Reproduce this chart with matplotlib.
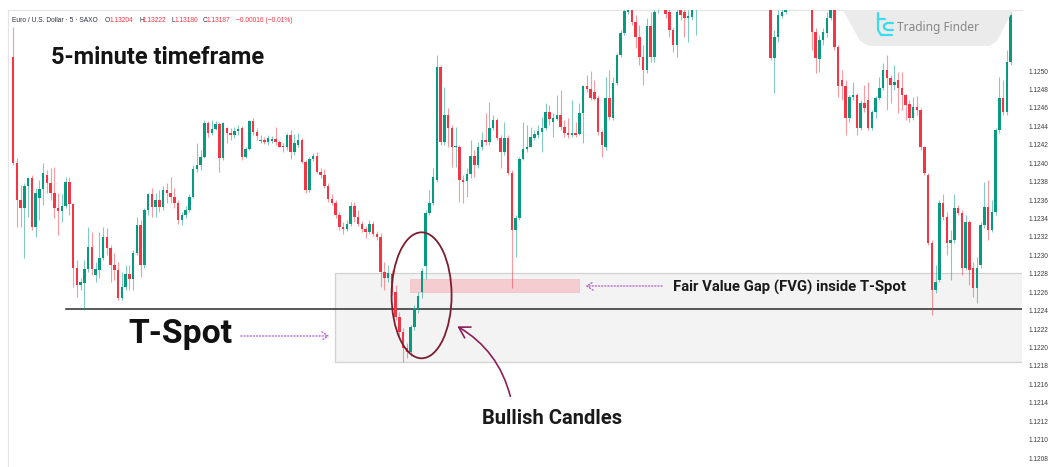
import matplotlib
matplotlib.use("Agg")
import matplotlib.pyplot as plt
from matplotlib.patches import Rectangle, Ellipse, FancyArrowPatch, Polygon
from matplotlib.lines import Line2D
import numpy as np

# ---------------- data (EUR/USD, 5-minute candles) ----------------
opens = [
1.12515, 1.12400, 1.12360, 1.12351, 1.12375, 1.12384, 1.12331, 1.12362, 1.12372, 1.12387,
1.12378, 1.12368, 1.12351, 1.12348, 1.12354, 1.12380, 1.12356, 1.12286, 1.12268, 1.12270,
1.12285, 1.12309, 1.12279, 1.12284, 1.12297, 1.12320, 1.12308, 1.12290, 1.12284, 1.12254,
1.12266, 1.12280, 1.12274, 1.12303, 1.12333, 1.12290, 1.12349, 1.12366, 1.12352, 1.12360,
1.12352, 1.12371, 1.12368, 1.12363, 1.12357, 1.12338, 1.12344, 1.12349, 1.12363, 1.12394,
1.12398, 1.12407, 1.12444, 1.12433, 1.12437, 1.12443, 1.12406, 1.12438, 1.12433, 1.12431,
1.12435, 1.12438, 1.12407, 1.12415, 1.12446, 1.12434, 1.12424, 1.12425, 1.12423, 1.12424,
1.12426, 1.12423, 1.12418, 1.12417, 1.12431, 1.12412, 1.12420, 1.12425, 1.12401, 1.12371,
1.12405, 1.12408, 1.12390, 1.12387, 1.12375, 1.12361, 1.12357, 1.12344, 1.12331, 1.12329,
1.12334, 1.12354, 1.12342, 1.12334, 1.12329, 1.12325, 1.12334, 1.12323, 1.12320, 1.12282,
1.12275, 1.12280, 1.12260, 1.12233, 1.12217, 1.12199, 1.12195, 1.12222, 1.12241, 1.12260,
1.12288, 1.12346, 1.12357, 1.12382, 1.12504, 1.12423, 1.12452, 1.12438, 1.12417, 1.12418,
1.12382, 1.12381, 1.12388, 1.12408, 1.12398, 1.12418, 1.12425, 1.12423, 1.12438, 1.12447,
1.12427, 1.12412, 1.12427, 1.12389, 1.12327, 1.12341, 1.12405, 1.12415, 1.12418, 1.12427,
1.12431, 1.12434, 1.12438, 1.12456, 1.12445, 1.12448, 1.12452, 1.12439, 1.12433, 1.12431,
1.12432, 1.12432, 1.12454, 1.12484, 1.12480, 1.12477, 1.12471, 1.12434, 1.12417, 1.12471,
1.12449, 1.12487, 1.12517, 1.12541, 1.12564, 1.12580, 1.12553, 1.12537, 1.12515, 1.12501,
1.12549, 1.12515, 1.12572, 1.12588, 1.12583, 1.12564, 1.12545, 1.12528, 1.12568, 1.12564,
1.12558, 1.12559, 1.12572, 1.12577, 1.12590, 1.12586, 1.12601, 1.12610, 1.12603, 1.12615,
1.12621, 1.12613, 1.12626, 1.12618, 1.12610, 1.12616, 1.12608, 1.12599, 1.12605, 1.12597,
1.12588, 1.12593, 1.12577, 1.12514, 1.12537, 1.12560, 1.12564, 1.12579, 1.12593, 1.12586,
1.12599, 1.12590, 1.12597, 1.12583, 1.12542, 1.12513, 1.12534, 1.12541, 1.12558, 1.12566,
1.12526, 1.12490, 1.12484, 1.12449, 1.12472, 1.12474, 1.12438, 1.12465, 1.12469, 1.12438,
1.12456, 1.12471, 1.12482, 1.12501, 1.12492, 1.12485, 1.12490, 1.12482, 1.12474, 1.12464,
1.12449, 1.12461, 1.12458, 1.12417, 1.12387, 1.12313, 1.12262, 1.12273, 1.12357, 1.12342,
1.12313, 1.12317, 1.12351, 1.12346, 1.12286, 1.12336, 1.12286, 1.12265, 1.12290, 1.12333,
1.12352, 1.12327, 1.12347, 1.12436, 1.12471, 1.12456, 1.12510]

closes = [
1.12400, 1.12360, 1.12351, 1.12375, 1.12384, 1.12331, 1.12368, 1.12372, 1.12389, 1.12378,
1.12368, 1.12351, 1.12348, 1.12354, 1.12380, 1.12356, 1.12286, 1.12268, 1.12271, 1.12285,
1.12309, 1.12285, 1.12285, 1.12297, 1.12320, 1.12308, 1.12290, 1.12284, 1.12254, 1.12266,
1.12280, 1.12274, 1.12303, 1.12333, 1.12290, 1.12349, 1.12366, 1.12352, 1.12360, 1.12352,
1.12371, 1.12368, 1.12363, 1.12357, 1.12338, 1.12344, 1.12349, 1.12363, 1.12394, 1.12398,
1.12407, 1.12444, 1.12433, 1.12437, 1.12443, 1.12406, 1.12444, 1.12433, 1.12431, 1.12435,
1.12437, 1.12407, 1.12415, 1.12446, 1.12434, 1.12430, 1.12425, 1.12423, 1.12427, 1.12426,
1.12423, 1.12418, 1.12417, 1.12431, 1.12412, 1.12422, 1.12425, 1.12401, 1.12371, 1.12405,
1.12408, 1.12390, 1.12387, 1.12375, 1.12361, 1.12357, 1.12344, 1.12331, 1.12329, 1.12334,
1.12354, 1.12342, 1.12334, 1.12329, 1.12325, 1.12334, 1.12323, 1.12320, 1.12282, 1.12275,
1.12281, 1.12260, 1.12233, 1.12217, 1.12199, 1.12195, 1.12222, 1.12243, 1.12256, 1.12283,
1.12346, 1.12357, 1.12385, 1.12504, 1.12423, 1.12452, 1.12438, 1.12417, 1.12418, 1.12382,
1.12380, 1.12388, 1.12408, 1.12398, 1.12418, 1.12425, 1.12423, 1.12438, 1.12447, 1.12427,
1.12412, 1.12427, 1.12389, 1.12327, 1.12341, 1.12405, 1.12415, 1.12418, 1.12428, 1.12432,
1.12435, 1.12438, 1.12456, 1.12448, 1.12449, 1.12452, 1.12439, 1.12433, 1.12431, 1.12432,
1.12431, 1.12454, 1.12484, 1.12480, 1.12471, 1.12470, 1.12434, 1.12420, 1.12471, 1.12450,
1.12487, 1.12517, 1.12541, 1.12565, 1.12583, 1.12553, 1.12537, 1.12515, 1.12501, 1.12549,
1.12515, 1.12564, 1.12588, 1.12599, 1.12562, 1.12545, 1.12528, 1.12564, 1.12561, 1.12558,
1.12559, 1.12568, 1.12577, 1.12590, 1.12586, 1.12601, 1.12610, 1.12603, 1.12615, 1.12621,
1.12613, 1.12626, 1.12618, 1.12610, 1.12616, 1.12608, 1.12599, 1.12605, 1.12597, 1.12588,
1.12593, 1.12579, 1.12514, 1.12537, 1.12561, 1.12564, 1.12579, 1.12593, 1.12586, 1.12599,
1.12590, 1.12597, 1.12583, 1.12542, 1.12514, 1.12534, 1.12542, 1.12558, 1.12568, 1.12526,
1.12484, 1.12484, 1.12449, 1.12472, 1.12474, 1.12438, 1.12465, 1.12460, 1.12438, 1.12456,
1.12471, 1.12482, 1.12501, 1.12492, 1.12485, 1.12488, 1.12482, 1.12474, 1.12463, 1.12449,
1.12461, 1.12458, 1.12417, 1.12389, 1.12313, 1.12262, 1.12271, 1.12357, 1.12342, 1.12313,
1.12317, 1.12351, 1.12346, 1.12286, 1.12336, 1.12284, 1.12265, 1.12286, 1.12333, 1.12352,
1.12327, 1.12347, 1.12436, 1.12471, 1.12456, 1.12510, 1.12561]

highs = [
1.12548, 1.12406, 1.12376, 1.12378, 1.12385, 1.12387, 1.12373, 1.12382, 1.12400, 1.12393,
1.12395, 1.12396, 1.12368, 1.12366, 1.12385, 1.12385, 1.12357, 1.12295, 1.12275, 1.12295,
1.12331, 1.12325, 1.12293, 1.12325, 1.12331, 1.12330, 1.12311, 1.12303, 1.12293, 1.12282,
1.12290, 1.12290, 1.12306, 1.12342, 1.12338, 1.12351, 1.12368, 1.12373, 1.12368, 1.12371,
1.12375, 1.12378, 1.12385, 1.12373, 1.12360, 1.12347, 1.12354, 1.12366, 1.12398, 1.12422,
1.12414, 1.12447, 1.12446, 1.12447, 1.12446, 1.12445, 1.12445, 1.12439, 1.12438, 1.12439,
1.12441, 1.12440, 1.12418, 1.12447, 1.12449, 1.12438, 1.12431, 1.12428, 1.12431, 1.12430,
1.12439, 1.12425, 1.12422, 1.12433, 1.12436, 1.12432, 1.12433, 1.12427, 1.12403, 1.12407,
1.12411, 1.12412, 1.12395, 1.12394, 1.12378, 1.12366, 1.12360, 1.12347, 1.12336, 1.12338,
1.12358, 1.12358, 1.12349, 1.12337, 1.12332, 1.12338, 1.12337, 1.12326, 1.12324, 1.12293,
1.12290, 1.12284, 1.12268, 1.12238, 1.12221, 1.12205, 1.12224, 1.12246, 1.12260, 1.12286,
1.12349, 1.12371, 1.12395, 1.12517, 1.12507, 1.12483, 1.12460, 1.12441, 1.12439, 1.12420,
1.12387, 1.12395, 1.12425, 1.12414, 1.12423, 1.12434, 1.12454, 1.12466, 1.12452, 1.12449,
1.12431, 1.12445, 1.12431, 1.12393, 1.12344, 1.12407, 1.12445, 1.12441, 1.12439, 1.12436,
1.12441, 1.12450, 1.12465, 1.12463, 1.12454, 1.12474, 1.12479, 1.12447, 1.12449, 1.12469,
1.12445, 1.12465, 1.12485, 1.12496, 1.12500, 1.12490, 1.12474, 1.12436, 1.12493, 1.12501,
1.12494, 1.12520, 1.12545, 1.12568, 1.12588, 1.12586, 1.12561, 1.12550, 1.12528, 1.12558,
1.12564, 1.12572, 1.12593, 1.12604, 1.12588, 1.12572, 1.12547, 1.12572, 1.12574, 1.12572,
1.12566, 1.12574, 1.12583, 1.12597, 1.12599, 1.12608, 1.12616, 1.12618, 1.12623, 1.12629,
1.12626, 1.12631, 1.12634, 1.12623, 1.12621, 1.12621, 1.12613, 1.12610, 1.12610, 1.12601,
1.12599, 1.12599, 1.12583, 1.12545, 1.12566, 1.12572, 1.12586, 1.12599, 1.12601, 1.12604,
1.12605, 1.12603, 1.12601, 1.12588, 1.12547, 1.12539, 1.12547, 1.12564, 1.12574, 1.12572,
1.12528, 1.12501, 1.12490, 1.12474, 1.12488, 1.12476, 1.12469, 1.12485, 1.12488, 1.12458,
1.12473, 1.12493, 1.12509, 1.12517, 1.12496, 1.12507, 1.12499, 1.12499, 1.12475, 1.12469,
1.12472, 1.12473, 1.12460, 1.12419, 1.12389, 1.12317, 1.12290, 1.12360, 1.12366, 1.12347,
1.12327, 1.12366, 1.12355, 1.12349, 1.12344, 1.12338, 1.12293, 1.12298, 1.12336, 1.12380,
1.12382, 1.12360, 1.12438, 1.12494, 1.12490, 1.12523, 1.12564]

lows = [
1.12398, 1.12331, 1.12331, 1.12297, 1.12342, 1.12327, 1.12320, 1.12338, 1.12355, 1.12368,
1.12360, 1.12341, 1.12322, 1.12336, 1.12351, 1.12344, 1.12266, 1.12255, 1.12262, 1.12241,
1.12282, 1.12279, 1.12271, 1.12275, 1.12295, 1.12300, 1.12271, 1.12273, 1.12251, 1.12251,
1.12262, 1.12262, 1.12262, 1.12300, 1.12276, 1.12286, 1.12344, 1.12342, 1.12342, 1.12347,
1.12349, 1.12357, 1.12357, 1.12351, 1.12334, 1.12333, 1.12341, 1.12347, 1.12362, 1.12390,
1.12393, 1.12406, 1.12428, 1.12431, 1.12436, 1.12390, 1.12403, 1.12422, 1.12425, 1.12427,
1.12431, 1.12403, 1.12406, 1.12414, 1.12431, 1.12425, 1.12422, 1.12421, 1.12420, 1.12422,
1.12420, 1.12417, 1.12412, 1.12414, 1.12405, 1.12409, 1.12418, 1.12400, 1.12368, 1.12369,
1.12402, 1.12389, 1.12384, 1.12373, 1.12358, 1.12355, 1.12341, 1.12327, 1.12323, 1.12326,
1.12332, 1.12336, 1.12332, 1.12325, 1.12319, 1.12323, 1.12321, 1.12317, 1.12266, 1.12262,
1.12271, 1.12257, 1.12230, 1.12212, 1.12184, 1.12189, 1.12191, 1.12219, 1.12237, 1.12254,
1.12274, 1.12344, 1.12355, 1.12380, 1.12420, 1.12420, 1.12418, 1.12396, 1.12396, 1.12358,
1.12357, 1.12363, 1.12384, 1.12385, 1.12395, 1.12414, 1.12420, 1.12420, 1.12436, 1.12425,
1.12395, 1.12409, 1.12387, 1.12265, 1.12298, 1.12338, 1.12403, 1.12412, 1.12417, 1.12425,
1.12427, 1.12412, 1.12436, 1.12441, 1.12428, 1.12447, 1.12436, 1.12428, 1.12427, 1.12428,
1.12428, 1.12431, 1.12422, 1.12477, 1.12469, 1.12468, 1.12431, 1.12407, 1.12414, 1.12447,
1.12447, 1.12485, 1.12515, 1.12539, 1.12562, 1.12550, 1.12525, 1.12507, 1.12485, 1.12498,
1.12510, 1.12510, 1.12563, 1.12583, 1.12558, 1.12537, 1.12521, 1.12515, 1.12555, 1.12537,
1.12532, 1.12555, 1.12539, 1.12574, 1.12579, 1.12581, 1.12597, 1.12599, 1.12599, 1.12610,
1.12608, 1.12610, 1.12613, 1.12604, 1.12603, 1.12601, 1.12593, 1.12592, 1.12590, 1.12583,
1.12581, 1.12574, 1.12512, 1.12476, 1.12532, 1.12558, 1.12562, 1.12575, 1.12580, 1.12581,
1.12584, 1.12584, 1.12577, 1.12523, 1.12498, 1.12499, 1.12528, 1.12537, 1.12555, 1.12523,
1.12472, 1.12469, 1.12431, 1.12445, 1.12469, 1.12431, 1.12436, 1.12456, 1.12436, 1.12436,
1.12449, 1.12469, 1.12479, 1.12458, 1.12465, 1.12479, 1.12454, 1.12458, 1.12447, 1.12445,
1.12447, 1.12452, 1.12414, 1.12387, 1.12311, 1.12235, 1.12259, 1.12271, 1.12338, 1.12300,
1.12273, 1.12313, 1.12344, 1.12279, 1.12284, 1.12268, 1.12255, 1.12248, 1.12286, 1.12330,
1.12317, 1.12325, 1.12344, 1.12433, 1.12452, 1.12452, 1.12507]

price_ticks = [1.1208, 1.1210, 1.1212, 1.1214, 1.1216, 1.1218, 1.1220, 1.1222,
               1.1224, 1.1226, 1.1228, 1.1230, 1.1232, 1.1234, 1.1236, 1.1238,
               1.1240, 1.1242, 1.1244, 1.1246, 1.1248, 1.1250]

# annotation levels (price) and candle-index spans
tspot_level = 1.12242
zone_top, zone_bottom = 1.12281, 1.12184
fvg_top, fvg_bottom = 1.12274, 1.12260
line_start_idx = 14.1
zone_start_idx = 85.8
fvg_start_idx, fvg_end_idx = 105.8, 150.9

header_parts = [("Euro / U.S. Dollar · 5 · SAXO", "dark"), ("O", "dark"), ("1.13204", "red"),
                ("H", "dark"), ("1.13222", "red"), ("L", "dark"), ("1.13180", "red"),
                ("C", "dark"), ("1.13187", "red"), ("\u22120.00016 (\u22120.01%)", "red")]

# ---------------- figure ----------------
W, H = 1048, 467
fig = plt.figure(figsize=(W / 100, H / 100), dpi=100, facecolor="white")

def fx(x):
    return x / W

def fy(y):
    return 1 - y / H

ax = fig.add_axes([8 / W, 0, 1014 / W, 457 / H])
ax.set_facecolor("white")
ax.set_xlim(-1.387, 269.013)
ax.set_ylim(1.120703, 1.125662)

GREEN = "#089981"
RED = "#f23645"

o = np.array(opens); c = np.array(closes); hi = np.array(highs); lo = np.array(lows)
idx = np.arange(len(c))
cols = np.where(c >= o, GREEN, RED)

# zones
ax.add_patch(Rectangle((zone_start_idx, zone_bottom), 300, zone_top - zone_bottom,
                       facecolor="#f3f3f3", edgecolor="#d2d2d2", lw=0.9, zorder=1))
ax.add_patch(Rectangle((fvg_start_idx, fvg_bottom), fvg_end_idx - fvg_start_idx, fvg_top - fvg_bottom,
                       facecolor="#f5cdd0", edgecolor="#f0c0c4", lw=0.5, zorder=1.5))
ax.plot([line_start_idx, 300], [tspot_level, tspot_level], color="#3c3c3c", lw=1.2, zorder=2)

# candles
ax.vlines(idx, lo, hi, colors=cols, lw=0.8, alpha=0.5, zorder=3)
bottoms = np.minimum(o, c)
heights = np.maximum(np.abs(c - o), 0.000012)
ax.bar(idx, heights, bottom=bottoms, width=0.66, color=cols, lw=0, zorder=4)

# ellipse around bullish candles
ax.add_patch(Ellipse((108.9, 1.122566), 16.0, 0.001367, fill=False,
                     edgecolor="#7a1f2f", lw=1.3, zorder=5))

# axes styling
for s in ["right", "bottom"]:
    ax.spines[s].set_visible(False)
for s in ["top", "left"]:
    ax.spines[s].set_color("#e4e4e4")
    ax.spines[s].set_linewidth(0.8)
ax.set_xticks([])
ax.yaxis.tick_right()
ax.set_yticks(price_ticks)
ax.set_yticklabels([f"{t:.4f}" for t in price_ticks], fontfamily="Liberation Sans")
ax.tick_params(axis="y", length=0, pad=5, labelsize=4.7, labelcolor="#3a3a3a")

# header
xpos = [12, 105, 110, 139, 143, 172, 175, 203, 207, 236]
for (txt, kind), x in zip(header_parts, xpos):
    fig.text(fx(x), fy(20), txt, fontsize=4.8, fontfamily="Liberation Sans",
             color="#2a2e39" if kind == "dark" else RED, va="center", ha="left")

# titles / labels
fig.text(fx(51), fy(64), "5-minute timeframe", fontsize=17, fontfamily="Roboto",
         fontweight="bold", color="#141414", va="baseline", ha="left")
fig.text(fx(128), fy(343), "T-Spot", fontsize=24.3, fontfamily="Roboto",
         fontweight="bold", color="#111111", va="baseline", ha="left")
fig.text(fx(673), fy(292), "Fair Value Gap (FVG) inside T-Spot", fontsize=10.7,
         fontfamily="Roboto", fontweight="bold", color="#1a1a1a", va="baseline", ha="left")
fig.text(fx(482), fy(424), "Bullish Candles", fontsize=14.5, fontfamily="Roboto",
         fontweight="bold", color="#1a1a1a", va="baseline", ha="left")

# dotted arrows
fig.add_artist(FancyArrowPatch((fx(665), fy(286)), (fx(583), fy(286)), transform=fig.transFigure,
                               arrowstyle="->,head_length=3,head_width=2", mutation_scale=1.5,
                               color="#b25ccf", lw=0.9, linestyle=(0, (1, 1.5)), zorder=6))
fig.add_artist(FancyArrowPatch((fx(238), fy(336)), (fx(332), fy(336)), transform=fig.transFigure,
                               arrowstyle="->,head_length=3,head_width=2", mutation_scale=1.5,
                               color="#b25ccf", lw=0.9, linestyle=(0, (1, 1.5)), zorder=6))
# curved arrow
fig.add_artist(FancyArrowPatch((fx(511), fy(399)), (fx(455), fy(325)), transform=fig.transFigure,
                               connectionstyle="arc3,rad=0.22",
                               arrowstyle="->,head_length=5,head_width=3", mutation_scale=1.5,
                               color="#8a2058", lw=1.2, zorder=6))

# logo badge
badge = Polygon([(fx(843), fy(10)), (fx(1013), fy(10)), (fx(997), fy(41)), (fx(989), fy(46)),
                 (fx(869), fy(46)), (fx(860), fy(41))], closed=True, transform=fig.transFigure,
                facecolor="#ebebeb", edgecolor="none", zorder=7)
fig.add_artist(badge)
icon_col = "#39dcef"
for xs, ys in [([878, 878, 881, 892], [13, 30, 35, 35]),
               ([878, 885], [19, 19]),
               ([893, 887, 884, 884, 887, 893], [23, 23, 25, 28, 30, 30])]:
    fig.add_artist(Line2D([fx(v) for v in xs], [fy(v) for v in ys], transform=fig.transFigure,
                          color=icon_col, lw=1.6, solid_capstyle="round", zorder=8))
fig.text(fx(897), fy(28), "Trading Finder", fontsize=8.6, fontfamily="Noto Sans",
         color="#878787", va="center", ha="left", zorder=8)

fig.savefig("out.png", dpi=100, facecolor="white")
